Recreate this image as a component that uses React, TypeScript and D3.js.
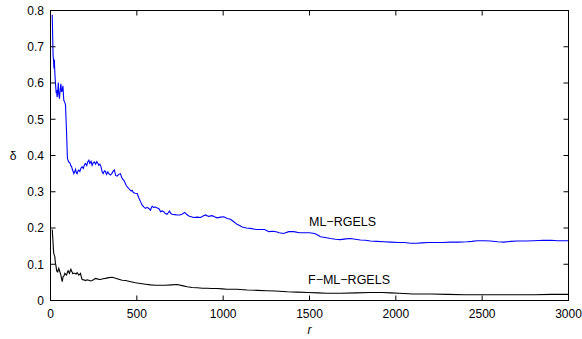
import React from "react";
import * as d3 from "d3";

const xTicks = [0, 500, 1000, 1500, 2000, 2500, 3000];
const yTicks = [0, 0.1, 0.2, 0.3, 0.4, 0.5, 0.6, 0.7, 0.8];
const yTickLabels = ["0", "0.1", "0.2", "0.3", "0.4", "0.5", "0.6", "0.7", "0.8"];

const mlR = [10,13,15,18,20,22,25,28,31,33,36,38,42,45,48,52,56,60,64,68,72,77,82,87,90,93,96,98,102,106,112,118,122,128,135,140,145,150,154,160,164,170,176,183,190,197,203,210,216,222,228,235,241,248,255,261,268,275,280,286,292,299,305,312,318,325,332,338,347,355,362,370,377,386,395,405,412,418,424,430,438,446,453,460,467,473,480,490,502,510,517,524,531,540,550,560,569,579,584,589,598,608,618,627,632,637,646,656,665,675,682,689,697,705,720,734,748,762,776,788,801,815,830,850,869,884,898,915,936,950,965,985,1004,1023,1042,1060,1080,1095,1110,1135,1158,1190,1216,1240,1265,1290,1312,1325,1350,1380,1409,1440,1470,1500,1530,1550,1564,1590,1622,1650,1680,1710,1737,1765,1795,1825,1853,1890,1930,1970,2016,2050,2085,2120,2150,2185,2220,2270,2317,2365,2413,2440,2471,2510,2548,2590,2625,2665,2702,2750,2799,2857,2900,2935,2970,3000];
const mlV = [0.788,0.72,0.676,0.66,0.64,0.665,0.63,0.603,0.585,0.572,0.58,0.561,0.575,0.601,0.57,0.557,0.58,0.598,0.575,0.58,0.592,0.552,0.548,0.539,0.5,0.465,0.42,0.392,0.386,0.382,0.38,0.372,0.369,0.36,0.35,0.355,0.362,0.352,0.35,0.358,0.36,0.356,0.365,0.369,0.364,0.375,0.378,0.372,0.383,0.387,0.378,0.384,0.373,0.38,0.382,0.376,0.383,0.378,0.373,0.376,0.37,0.355,0.35,0.358,0.356,0.348,0.355,0.35,0.346,0.35,0.356,0.36,0.345,0.343,0.348,0.35,0.34,0.335,0.332,0.327,0.318,0.313,0.309,0.305,0.302,0.304,0.298,0.296,0.295,0.285,0.277,0.27,0.263,0.258,0.254,0.257,0.254,0.249,0.256,0.26,0.257,0.258,0.255,0.254,0.25,0.245,0.247,0.245,0.24,0.238,0.242,0.247,0.24,0.238,0.237,0.236,0.236,0.238,0.243,0.238,0.233,0.231,0.229,0.23,0.229,0.233,0.236,0.232,0.234,0.231,0.228,0.23,0.231,0.226,0.224,0.218,0.21,0.207,0.203,0.2,0.199,0.196,0.196,0.196,0.19,0.191,0.189,0.187,0.185,0.19,0.19,0.187,0.187,0.187,0.185,0.18,0.176,0.174,0.171,0.169,0.168,0.17,0.171,0.169,0.167,0.166,0.164,0.163,0.162,0.161,0.16,0.16,0.158,0.158,0.159,0.16,0.16,0.16,0.161,0.161,0.162,0.163,0.165,0.165,0.164,0.162,0.161,0.163,0.164,0.164,0.165,0.166,0.166,0.165,0.165,0.165];

const fmlR = [10,12,14,17,19,22,25,27,29,32,35,38,42,45,48,52,55,58,62,65,68,71,73,78,83,88,93,98,102,106,110,114,118,122,125,129,133,141,148,154,160,164,170,174,178,183,193,203,212,222,232,241,251,261,275,290,304,318,338,357,372,386,400,415,435,453,472,492,520,550,580,608,637,666,700,734,762,792,820,850,880,907,935,965,995,1023,1080,1139,1200,1250,1300,1371,1430,1490,1550,1600,1680,1770,1850,1920,1970,2020,2100,2200,2300,2400,2500,2600,2700,2800,2900,3000];
const fmlV = [0.196,0.18,0.167,0.14,0.13,0.125,0.121,0.11,0.102,0.095,0.084,0.08,0.079,0.085,0.089,0.082,0.078,0.075,0.065,0.058,0.052,0.06,0.066,0.068,0.075,0.072,0.07,0.078,0.082,0.078,0.075,0.082,0.086,0.08,0.079,0.074,0.075,0.075,0.073,0.077,0.073,0.07,0.073,0.075,0.066,0.058,0.057,0.055,0.057,0.056,0.054,0.055,0.058,0.061,0.059,0.058,0.06,0.061,0.063,0.064,0.062,0.06,0.058,0.056,0.055,0.053,0.051,0.049,0.047,0.045,0.043,0.042,0.042,0.042,0.043,0.044,0.041,0.038,0.036,0.035,0.034,0.034,0.033,0.033,0.032,0.031,0.031,0.029,0.028,0.027,0.026,0.024,0.023,0.022,0.021,0.02,0.02,0.021,0.022,0.022,0.021,0.02,0.018,0.018,0.017,0.016,0.016,0.016,0.016,0.016,0.017,0.017];

const W = 582, H = 339;
const L = 50.5, R = 568.5, T = 10.5, B = 300.5;
const FONT = "'Liberation Sans', Arial, Helvetica, sans-serif";

export default function App() {
  const x = d3.scaleLinear().domain([0, 3000]).range([L, R]);
  const y = d3.scaleLinear().domain([0, 0.8]).range([B, T]);
  const line = d3.line<[number, number]>().x(d => x(d[0])).y(d => y(d[1]));
  const ml = line(mlR.map((r, i) => [r, mlV[i]] as [number, number])) || "";
  const fml = line(fmlR.map((r, i) => [r, fmlV[i]] as [number, number])) || "";
  const tl = 5;
  return (
    <svg width={W} height={H} style={{ position: "absolute", left: 0, top: 0, background: "#fff" }} fontFamily={FONT}>
      <rect x={0} y={0} width={W} height={H} fill="#fff" />
      <defs>
        <clipPath id="plot"><rect x={L} y={T} width={R - L} height={B - T} /></clipPath>
      </defs>
      <g clipPath="url(#plot)">
        <path d={ml} fill="none" stroke="#0000ff" strokeWidth={1.1} />
        <path d={fml} fill="none" stroke="#000" strokeWidth={1.1} />
      </g>
      <rect x={L} y={T} width={R - L} height={B - T} fill="none" stroke="#000" strokeWidth={1} />
      {xTicks.map(t => (
        <g key={"x" + t}>
          <line x1={x(t)} x2={x(t)} y1={B} y2={B - tl} stroke="#000" />
          <line x1={x(t)} x2={x(t)} y1={T} y2={T + tl} stroke="#000" />
          <text x={x(t)} y={317.5} textAnchor="middle" fontSize={12} fill="#000">{t}</text>
        </g>
      ))}
      {yTicks.map((t, i) => (
        <g key={"y" + t}>
          <line x1={L} x2={L + tl} y1={y(t)} y2={y(t)} stroke="#000" />
          <line x1={R} x2={R - tl} y1={y(t)} y2={y(t)} stroke="#000" />
          <text x={44} y={y(t) + 4.3} textAnchor="end" fontSize={12} fill="#000">{yTickLabels[i]}</text>
        </g>
      ))}
      <text x={(L + R) / 2} y={334} textAnchor="middle" fontSize={12} fontStyle="italic" fill="#000">r</text>
      <text x={13} y={160} textAnchor="middle" fontSize={12} fill="#000">δ</text>
      <text x={309} y={225.5} fontSize={12.5} fill="#000">ML−RGELS</text>
      <text x={308} y={283.5} fontSize={12.5} fill="#000">F−ML−RGELS</text>
    </svg>
  );
}
